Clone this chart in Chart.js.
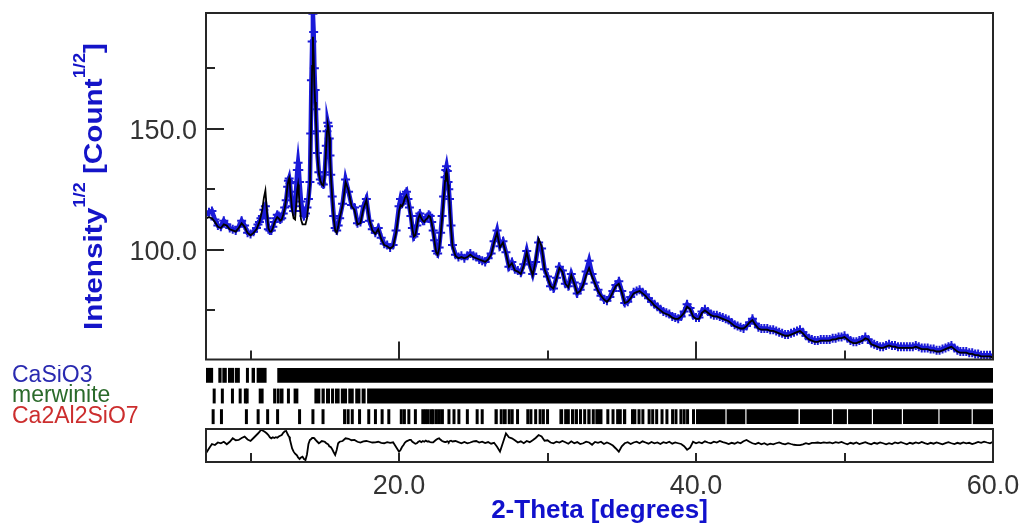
<!DOCTYPE html>
<html>
<head>
<meta charset="utf-8">
<script src="https://cdn.jsdelivr.net/npm/chart.js@4.4.1/dist/chart.umd.min.js"></script>
<style>
  html, body { margin: 0; padding: 0; background: #fff; width: 1022px; height: 524px; overflow: hidden; }
  body { position: relative; }
  canvas { position: absolute; left: 0; }
  #main { top: 0; }
  #bands { top: 365px; }
  #diff { top: 420px; }
</style>
</head>
<body>
<canvas id="main" width="1022" height="366"></canvas>
<canvas id="bands" width="1022" height="62"></canvas>
<canvas id="diff" width="1022" height="104"></canvas>
<script>
// 2-theta positions of the profile points (degrees)
const twoTheta = [
  7.0, 7.2, 7.4, 7.6, 7.8, 8.0, 8.2, 8.4, 8.6, 8.8, 9.0, 9.2, 9.4, 9.6, 9.8, 10.0, 10.2, 10.4,
  10.5, 10.6, 10.7, 10.8, 10.9, 11.0, 11.1, 11.2, 11.3, 11.4, 11.5, 11.6, 11.7, 11.8, 11.9, 12.0, 12.1, 12.2, 12.3, 12.4, 12.5, 12.55, 12.6, 12.65, 12.7, 12.8, 12.9, 13.0, 13.1, 13.15, 13.2, 13.25, 13.3, 13.4, 13.5, 13.6, 13.7, 13.8, 13.9,
  14.0, 14.05, 14.1, 14.15, 14.2, 14.25, 14.3, 14.35, 14.4, 14.45, 14.5, 14.6, 14.7, 14.8, 14.9, 15.0, 15.1, 15.15, 15.2, 15.25, 15.3, 15.35, 15.4, 15.5, 15.6, 15.7, 15.8, 15.9, 16.0,
  16.2, 16.4, 16.6, 16.8, 17.0, 17.2, 17.4, 17.6, 17.8, 18.0, 18.2, 18.4, 18.6, 18.8, 19.0, 19.2, 19.4, 19.6, 19.8,
  20.0, 20.1, 20.2, 20.3, 20.4, 20.5, 20.6, 20.7, 20.8, 20.9, 21.0, 21.1, 21.2, 21.3, 21.4, 21.5, 21.6, 21.7, 21.8, 21.9,
  22.0, 22.1, 22.2, 22.3, 22.4, 22.5, 22.6, 22.7, 22.8, 22.9, 23.0, 23.1, 23.15, 23.2, 23.25, 23.3, 23.35, 23.4, 23.5, 23.6,
  23.8,
  24.0, 24.2, 24.4, 24.6, 24.8, 25.0, 25.2, 25.4, 25.6, 25.8,
  26.0, 26.2, 26.4, 26.6, 26.8, 27.0, 27.2, 27.4, 27.6, 27.8,
  28.0, 28.2, 28.4, 28.6, 28.8, 29.0, 29.2, 29.4, 29.6, 29.8,
  30.0, 30.2, 30.4, 30.6, 30.8, 31.0, 31.2, 31.4, 31.6, 31.8,
  32.0, 32.2, 32.4, 32.6, 32.8, 33.0, 33.2, 33.4, 33.6, 33.8,
  34.0, 34.2, 34.4, 34.6, 34.8, 35.0, 35.2, 35.4, 35.6, 35.8,
  36.0, 36.2, 36.4, 36.6, 36.8, 37.0, 37.2, 37.4, 37.6, 37.8,
  38.0, 38.2, 38.4, 38.6, 38.8, 39.0, 39.2, 39.4, 39.6, 39.8,
  40.0, 40.2, 40.4, 40.6, 40.8, 41.0, 41.2, 41.4, 41.6, 41.8,
  42.0, 42.2, 42.4, 42.6, 42.8, 43.0, 43.2, 43.4, 43.6, 43.8,
  44.0, 44.2, 44.4, 44.6, 44.8, 45.0, 45.2, 45.4, 45.6, 45.8,
  46.0, 46.2, 46.4, 46.6, 46.8, 47.0, 47.2, 47.4, 47.6, 47.8,
  48.0, 48.2, 48.4, 48.6, 48.8, 49.0, 49.2, 49.4, 49.6, 49.8,
  50.0, 50.2, 50.4, 50.6, 50.8, 51.0, 51.2, 51.4, 51.6, 51.8,
  52.0, 52.2, 52.4, 52.6, 52.8, 53.0, 53.2, 53.4, 53.6, 53.8,
  54.0, 54.2, 54.4, 54.6, 54.8, 55.0, 55.2, 55.4, 55.6, 55.8,
  56.0, 56.2, 56.4, 56.6, 56.8, 57.0, 57.2, 57.4, 57.6, 57.8,
  58.0, 58.2, 58.4, 58.6, 58.8, 59.0, 59.2, 59.4, 59.6, 59.8,
  60.0
];

// measured intensity, sqrt(counts)
const yObs = [
  114.5, 115.5, 116.0, 112.5, 110.0, 109.5, 112.0, 110.5, 109.0, 108.5, 108.0, 109.5, 112.0, 110.0, 107.0, 106.5, 107.5, 109.0,
  110.5, 111.5, 113.0, 114.0, 116.5, 118.0, 113.0, 108.5, 108.0, 108.0, 109.5, 111.5, 113.0, 114.5, 114.0, 112.5, 113.0, 115.0, 117.5, 120.5, 126.0, 128.5, 129.5, 127.5, 124.0, 118.0, 116.0, 118.0, 128.0, 133.0, 136.0, 133.0, 128.0, 120.0, 116.0, 114.0, 115.0, 117.5, 121.0,
  128.0, 148.0, 170.0, 186.0, 197.5, 190.0, 175.0, 166.0, 158.0, 149.0, 140.0, 132.0, 129.0, 127.5, 127.0, 132.0, 143.0, 149.0, 152.5, 151.0, 146.0, 139.0, 131.0, 122.0, 114.0, 109.0, 108.0, 110.0, 113.0,
  119.0, 129.0, 124.0, 118.5, 117.5, 111.0, 111.5, 118.0, 121.0, 112.0, 108.5, 107.0, 109.0, 105.0, 102.5, 102.0, 101.0, 102.0, 108.0,
  118.0, 121.0, 119.0, 120.0, 123.0, 124.0, 121.0, 117.5, 114.0, 109.0, 105.5, 106.5, 110.0, 114.0, 115.0, 113.5, 112.0, 112.0, 113.0, 113.5,
  114.5, 114.0, 111.5, 108.0, 104.0, 99.5, 98.5, 101.0, 107.0, 114.0, 122.0, 130.0, 133.0, 134.5, 132.5, 128.0, 125.0, 121.0, 110.0, 102.0,
  98.0,
  97.0, 97.5, 96.5, 97.5, 98.5, 97.5, 97.0, 96.0, 95.5, 95.0,
  96.5, 98.5, 103.5, 108.0, 101.5, 103.5, 99.0, 93.0, 95.0, 92.0,
  91.5, 90.5, 94.0, 99.5, 94.0, 90.0, 95.0, 103.0, 100.5, 92.0,
  89.0, 85.0, 84.0, 88.5, 93.0, 91.5, 86.0, 85.0, 90.0, 86.5,
  82.0, 83.5, 86.0, 91.0, 95.5, 90.0, 86.5, 83.5, 81.0, 79.5,
  79.0, 80.5, 83.0, 85.5, 87.0, 83.0, 78.0, 78.5, 80.5, 82.5,
  83.0, 83.5, 82.5, 81.5, 80.0, 78.5, 77.5, 76.5, 75.5, 74.5,
  74.0, 73.5, 72.5, 72.0, 71.5, 72.5, 74.5, 77.5, 76.0, 73.0,
  72.0, 72.0, 74.5, 75.5, 74.5, 73.5, 73.0, 73.0, 72.5, 72.0,
  71.5, 71.0, 70.0, 69.0, 68.5, 68.0, 67.5, 68.5, 70.0, 71.5,
  69.5, 68.0, 67.5, 67.5, 67.5, 67.0, 67.0, 66.5, 66.0, 65.5,
  65.0, 65.0, 65.5, 66.0, 66.5, 67.0, 66.0, 64.5, 63.5, 63.0,
  62.5, 62.5, 63.0, 63.0, 63.0, 63.0, 63.5, 63.5, 64.0, 64.0,
  64.5, 63.5, 62.5, 62.0, 62.0, 62.5, 63.0, 64.0, 63.0, 61.5,
  61.0, 60.5, 60.0, 60.0, 60.5, 61.0, 60.5, 60.5, 60.0, 60.0,
  60.0, 60.0, 60.0, 60.0, 60.5, 60.0, 59.5, 59.5, 59.5, 59.0,
  59.0, 58.5, 58.5, 59.0, 59.5, 60.0, 60.5, 59.5, 58.5, 58.0,
  58.0, 58.0, 57.5, 57.5, 57.0, 57.0, 56.5, 56.5, 56.5, 56.5,
  56.0
];

// refined (calculated) profile
const yCalc = [
  113.0, 113.5, 113.0, 111.5, 109.5, 109.0, 110.5, 110.0, 108.5, 108.0, 107.5, 109.0, 111.0, 109.5, 107.0, 106.0, 107.0, 108.5,
  110.0, 111.5, 114.0, 117.0, 121.5, 124.5, 116.0, 109.0, 107.5, 107.5, 109.0, 111.0, 112.5, 113.5, 113.0, 112.0, 112.5, 114.5, 117.0, 121.0, 127.0, 128.5, 129.5, 127.0, 123.0, 116.5, 113.0, 112.5, 121.0, 125.0, 127.0, 123.5, 119.0, 112.5, 110.5, 110.5, 110.5, 113.0, 119.0,
  127.0, 142.0, 160.0, 176.0, 188.0, 180.0, 168.0, 161.0, 155.0, 147.0, 139.0, 131.5, 128.5, 127.0, 126.5, 131.0, 143.0, 149.0, 152.0, 150.5, 146.5, 139.0, 131.5, 121.5, 113.0, 108.0, 107.0, 109.5, 113.0,
  118.5, 128.0, 124.5, 118.0, 116.5, 110.5, 111.0, 117.0, 120.5, 112.5, 108.0, 106.5, 108.5, 104.5, 102.0, 101.5, 100.5, 101.5, 107.0,
  116.0, 118.5, 118.0, 119.5, 121.5, 122.5, 120.5, 117.0, 113.0, 108.5, 105.5, 106.0, 109.5, 113.0, 114.5, 113.0, 112.0, 111.5, 112.5, 113.0,
  114.0, 113.5, 111.0, 107.5, 103.0, 99.0, 98.0, 100.5, 106.0, 113.0, 121.0, 128.5, 131.5, 132.5, 131.0, 127.0, 123.5, 119.5, 109.0, 101.5,
  97.5,
  96.5, 97.0, 96.5, 97.0, 98.0, 97.0, 96.5, 96.0, 95.5, 95.0,
  96.0, 98.0, 103.0, 107.0, 101.0, 103.0, 98.5, 93.0, 94.5, 91.5,
  91.0, 90.0, 93.5, 99.0, 93.5, 89.5, 95.5, 104.5, 101.5, 92.0,
  88.5, 85.0, 84.0, 88.0, 92.5, 91.0, 86.0, 84.5, 89.5, 86.0,
  82.0, 83.0, 85.5, 89.5, 92.5, 89.0, 86.0, 83.0, 81.0, 79.5,
  78.5, 80.0, 82.5, 85.0, 86.0, 82.5, 78.0, 78.5, 80.0, 82.0,
  82.5, 83.0, 82.0, 81.0, 79.5, 78.5, 77.0, 76.0, 75.0, 74.0,
  73.5, 73.0, 72.0, 71.5, 71.5, 72.5, 74.0, 76.5, 75.5, 72.5,
  71.5, 71.5, 74.0, 75.0, 74.0, 73.0, 72.5, 72.5, 72.0, 71.5,
  71.0, 70.5, 69.5, 68.5, 68.0, 67.5, 67.5, 68.5, 70.0, 71.0,
  69.0, 67.5, 67.0, 67.0, 67.0, 66.5, 66.5, 66.0, 65.5, 65.0,
  64.5, 64.5, 65.0, 65.5, 66.0, 66.5, 65.5, 64.0, 63.0, 62.5,
  62.0, 62.0, 62.5, 62.5, 62.5, 62.5, 63.0, 63.0, 63.5, 63.5,
  64.0, 63.0, 62.0, 61.5, 61.5, 62.0, 62.5, 63.5, 63.0, 61.0,
  60.5, 60.0, 59.5, 59.5, 60.0, 60.5, 60.0, 60.0, 59.5, 59.5,
  59.5, 59.5, 59.5, 59.5, 60.0, 59.5, 59.0, 59.0, 59.0, 58.5,
  58.5, 58.0, 58.0, 58.5, 59.0, 59.5, 60.0, 59.0, 58.0, 57.5,
  57.5, 57.5, 57.0, 57.0, 56.5, 56.5, 56.0, 56.0, 56.0, 56.0,
  55.5
];

// difference curve (plotted on its own scale)
const yDiff = [
  -5.2, -2.0, 1.0, 0.3, 2.0, 1.5, 2.5, 0.8, 2.5, 4.8, 3.5, 3.7, 5.0, 5.9, 4.0, 3.0, 5.0, 7.0,
  8.0, 9.0, 10.5, 10.0, 9.5, 8.8, 8.0, 7.0, 5.5, 4.8, 5.5, 5.0, 5.5, 5.2, 6.0, 6.5, 7.0, 8.5, 9.5, 9.7, 7.5, 6.5, 5.9, 4.0, 2.0, -2.0, -4.1, -5.5, -6.3, -7.0, -8.0, -8.5, -9.0, -8.0, -7.5, -9.0, -9.7, -6.0, 1.0,
  3.7, 4.0, 4.5, 5.0, 5.0, 5.0, 4.8, 4.0, 3.5, 3.0, 2.5, 1.5, 2.2, 3.0, 2.8, 2.5, 1.5, 1.2, 1.0, 0.5, -0.5, -0.8, -1.0, -2.5, -4.5, -6.3, -3.0, 1.5, 2.5,
  3.0, 4.8, 4.5, 3.5, 3.7, 2.5, 2.0, 2.8, 3.0, 2.5, 2.0, 2.1, 2.5, 1.8, 1.5, 2.2, 1.8, 2.1, -1.0,
  -4.1, -3.0, -1.0, 0.3, 2.0, 2.8, 3.2, 3.7, 3.7, 2.5, 1.8, 1.2, 1.5, 2.5, 3.0, 2.2, 3.0, 2.5, 3.3, 2.6,
  2.8, 2.2, 2.1, 2.1, 3.0, 3.8, 4.5, 4.8, 3.8, 3.0, 2.6, 2.2, 2.4, 2.5, 2.8, 2.5, 2.2, 2.9, 3.2, 2.7,
  3.0,
  2.2, 1.5, 2.4, 1.5, 2.0, 2.8, 3.0, 2.0, 2.6, 1.6,
  2.3, 1.2, 1.8, -0.8, -4.1, 2.0, 8.1, 5.5, 4.8, 3.5,
  2.0, 2.8, 1.5, 3.0, 2.2, 3.5, 5.0, 7.0, 6.0, 3.2,
  3.5, 2.0, 1.5, 2.5, 2.0, 3.0, 2.2, 1.2, 2.8, 1.5,
  2.3, 1.0, 1.5, 2.6, 2.0, 0.5, 2.4, 1.8, 2.5, 1.0,
  2.0, 1.2, 0.0, -2.0, -4.1, -0.5, 1.5, 2.2, 1.0, 2.0,
  2.6, 1.5, 2.8, 2.0, 1.2, 2.4, 1.5, 2.0, 1.0, 2.2,
  1.6, 2.5, 1.2, 2.0, 1.5, 1.0, -0.5, -2.8, -1.5, 2.5,
  1.5, 2.2, 1.5, 2.8, 2.0, 1.5, 2.6, 2.0, 3.0, 2.2,
  1.8, 1.0, 1.8, 1.2, 2.2, 1.5, 2.8, 3.7, 2.5, 1.5,
  1.0, 1.8, 0.8, 1.5, 0.5, 1.2, 0.8, 1.5, 2.0, 1.2,
  0.8, 1.6, 1.0, 0.5, 0.2, 0.3, 0.8, 1.5, 1.0, 1.8,
  1.8, 2.0, 1.6, 2.1, 1.8, 2.0, 1.5, 2.2, 1.8, 2.4,
  1.5, 0.8, 1.8, 1.2, 2.0, 1.0, 1.6, 2.2, 1.4, 0.8,
  1.8, 1.2, 2.0, 1.5, 0.8, 1.6, 1.0, 2.0, 1.4, 2.2,
  1.5, 0.8, 1.8, 1.2, 2.0, 1.5, 2.4, 1.6, 1.0, 1.8,
  1.2, 2.0, 1.4, 0.8, 1.6, 2.2, 1.5, 1.0, 1.8, 1.2,
  2.0, 1.4, 1.8, 1.0, 1.6, 2.4, 1.8, 2.6, 2.0, 1.5,
  2.5
];

// phases and their reflection positions, as 2-theta spans [from, to]
const phaseNames = ['CaSiO3', 'merwinite', 'Ca2Al2SiO7'];
const phaseColors = ['#2a2ab0', '#2a6a2a', '#cc2e2e'];

const reflCaSiO3 = [
  [7.0, 7.48], [7.83, 8.05], [8.1, 8.4], [8.48, 8.9], [8.95, 9.28],
  [9.69, 9.83], [10.07, 10.3], [10.41, 11.08], [11.8, 60.0]
];
const reflMerwinite = [
  [7.45, 7.55], [8.0, 8.1], [8.68, 8.78], [9.2, 9.3], [9.55, 9.62], [9.67, 9.74],
  [10.55, 10.88], [11.52, 11.62], [11.76, 11.86], [11.98, 12.22], [12.45, 12.62],
  [12.9, 13.22], [14.3, 14.7], [14.78, 15.0], [15.08, 15.35], [15.42, 15.6],
  [15.68, 16.0], [16.08, 16.5], [16.58, 16.95], [17.05, 17.4], [17.48, 17.75],
  [17.85, 60.0]
];
const reflCa2Al2SiO7 = [
  [7.38, 7.52], [7.94, 8.05], [9.62, 9.73], [10.41, 10.58], [11.05, 11.13], [11.72, 11.8],
  [13.2, 13.32], [14.1, 14.22], [14.78, 14.94], [16.23, 16.4], [16.47, 16.62], [16.75, 16.9],
  [17.24, 17.36], [17.86, 17.96], [18.31, 18.41], [18.76, 18.86], [19.21, 19.31],
  [20.05, 20.15], [20.26, 20.38], [20.56, 20.66], [21.0, 21.1], [21.5, 21.62], [21.68, 21.8],
  [21.86, 22.0], [22.06, 22.16], [22.2, 22.3], [22.42, 22.56], [22.62, 22.75], [22.82, 22.94],
  [23.26, 23.36], [23.6, 23.7], [23.93, 24.03], [24.5, 24.6], [25.16, 25.26], [25.5, 25.6],
  [26.43, 26.65], [26.78, 26.92], [27.0, 27.25], [27.32, 27.45], [27.52, 27.64], [27.88, 28.08],
  [28.57, 28.7], [28.78, 28.98], [29.1, 29.3], [29.4, 29.52], [29.62, 29.82], [29.9, 30.02],
  [30.8, 31.05], [31.12, 31.2], [31.3, 31.5], [31.58, 31.75], [31.82, 32.05], [32.12, 32.3],
  [32.4, 32.6], [32.68, 32.9], [32.98, 33.15], [33.22, 33.7], [33.96, 34.04], [34.31, 34.39],
  [34.62, 34.72], [34.8, 35.0], [35.08, 35.3], [35.62, 35.7], [35.78, 35.86], [36.06, 36.25],
  [36.32, 36.52], [36.74, 36.9], [36.98, 37.15], [37.25, 37.42], [37.61, 37.69], [37.94, 38.02],
  [38.32, 38.45], [38.55, 38.66], [38.88, 39.02], [39.1, 39.22], [39.33, 39.41], [39.73, 39.81],
  [40.0, 41.98], [42.06, 43.32], [43.4, 46.9], [47.0, 49.15], [49.23, 50.16], [50.24, 51.84],
  [51.92, 53.86], [53.94, 56.32], [56.4, 58.56], [58.64, 60.0]
];
const reflections = [reflCaSiO3, reflMerwinite, reflCa2Al2SiO7];

// axis ticks
const xTickValues = [10, 20, 30, 40, 50, 60];
const xLabelled = [20, 40, 60];
const yTickValues = [75, 100, 125, 150, 175];
const yLabelled = [100, 150];

const FONT = '"Liberation Sans", Arial, Helvetica, sans-serif';
const X_MIN = 7, X_MAX = 60;
const LEFT = 206, RIGHT_PAD = 29;
const OBS_BLUE = '#1a1ad8';

// keep the plot area exactly where the layout padding puts it
function noLabelPadding(s) {
  s.paddingTop = 0;
  s.paddingBottom = 0;
  s.paddingLeft = 0;
  s.paddingRight = 0;
}

// box round the plot area plus inward tick marks
const frameTicks = {
  id: 'frameTicks',
  afterDatasetsDraw(chart, args, opts) {
    const { ctx, chartArea: a, scales } = chart;
    ctx.save();
    ctx.strokeStyle = '#262626';
    ctx.lineWidth = 2;
    ctx.strokeRect(a.left, a.top, a.right - a.left, a.bottom - a.top);
    ctx.beginPath();
    (opts.x || []).forEach(v => {
      const px = Math.round(scales.x.getPixelForValue(v));
      const len = (opts.xMajor || []).includes(v) ? opts.major : opts.minor;
      ctx.moveTo(px, a.bottom);
      ctx.lineTo(px, a.bottom - len);
    });
    (opts.y || []).forEach(v => {
      const py = Math.round(scales.y.getPixelForValue(v));
      const len = (opts.yMajor || []).includes(v) ? opts.major : opts.minor;
      ctx.moveTo(a.left, py);
      ctx.lineTo(a.left + len, py);
    });
    ctx.stroke();
    ctx.restore();
  }
};

// rotated y title with superscripts
const yTitle = {
  id: 'yTitle',
  afterDraw(chart) {
    const ctx = chart.ctx;
    const parts = [
      { t: 'Intensity', sup: false },
      { t: '1/2', sup: true },
      { t: ' [Count', sup: false },
      { t: '1/2', sup: true },
      { t: ']', sup: false }
    ];
    const big = 'bold 26px ' + FONT;
    const small = 'bold 16px ' + FONT;
    let total = 0;
    parts.forEach(p => {
      ctx.font = p.sup ? small : big;
      p.w = ctx.measureText(p.t).width;
      total += p.w;
    });
    const stretch = 287 / total;
    ctx.save();
    ctx.translate(102, 186.5);
    ctx.rotate(-Math.PI / 2);
    ctx.scale(stretch, 1);
    ctx.fillStyle = '#1414c8';
    ctx.textBaseline = 'alphabetic';
    let x = -total / 2;
    parts.forEach(p => {
      ctx.font = p.sup ? small : big;
      ctx.fillText(p.t, x, p.sup ? -17 : 0);
      x += p.w;
    });
    ctx.restore();
  }
};

const obsPoints = twoTheta.map((t, i) => ({ x: t, y: yObs[i] }));
const calcPoints = twoTheta.map((t, i) => ({ x: t, y: yCalc[i] }));
const diffPoints = twoTheta.map((t, i) => ({ x: t, y: yDiff[i] }));

// main profile: observed crosses and calculated line
new Chart(document.getElementById('main'), {
  type: 'scatter',
  data: {
    datasets: [
      {
        label: 'Ycalc',
        data: calcPoints,
        showLine: true,
        borderColor: '#000',
        borderWidth: 1.8,
        pointRadius: 0,
        order: 0
      },
      {
        label: 'Yobs',
        data: obsPoints,
        showLine: true,
        borderWidth: 4.5,
        borderColor: OBS_BLUE,
        pointStyle: 'cross',
        pointRadius: 4.5,
        pointBorderWidth: 2,
        pointBorderColor: OBS_BLUE,
        backgroundColor: OBS_BLUE,
        order: 1
      }
    ]
  },
  options: {
    responsive: false,
    animation: false,
    events: [],
    layout: { padding: { top: 13, right: RIGHT_PAD, bottom: 3, left: 0 } },
    plugins: {
      legend: { display: false },
      tooltip: { enabled: false },
      frameTicks: { x: xTickValues, xMajor: xLabelled, y: yTickValues, yMajor: yLabelled, major: 18, minor: 9 }
    },
    scales: {
      x: { type: 'linear', min: X_MIN, max: X_MAX, display: false },
      y: {
        type: 'linear',
        min: 54.7,
        max: 197.8,
        afterFit: s => { s.width = LEFT; noLabelPadding(s); },
        afterBuildTicks: s => { s.ticks = yTickValues.map(v => ({ value: v })); },
        grid: { display: false, drawTicks: false },
        border: { display: false },
        ticks: {
          padding: 9,
          labelOffset: 3,
          color: '#333',
          font: { family: FONT, size: 27 },
          callback: v => yLabelled.includes(v) ? v.toFixed(1) : ''
        }
      }
    }
  },
  plugins: [frameTicks, yTitle]
});

// reflection markers, one row per phase
new Chart(document.getElementById('bands'), {
  type: 'bar',
  data: {
    labels: phaseNames,
    datasets: phaseNames.map((name, k) => ({
      label: name,
      data: reflections[k].map(r => ({ x: r, y: name })),
      backgroundColor: '#000',
      borderWidth: 0,
      minBarLength: 3,
      grouped: false,
      categoryPercentage: 1,
      barPercentage: 0.72
    }))
  },
  options: {
    indexAxis: 'y',
    responsive: false,
    animation: false,
    events: [],
    layout: { padding: { top: 0, right: RIGHT_PAD, bottom: 0, left: 12 } },
    plugins: { legend: { display: false }, tooltip: { enabled: false } },
    scales: {
      x: { type: 'linear', min: X_MIN, max: X_MAX, display: false },
      y: {
        afterFit: s => { s.width = LEFT - 12; noLabelPadding(s); },
        grid: { display: false, drawTicks: false },
        border: { display: false },
        ticks: {
          autoSkip: false,
          crossAlign: 'far',
          padding: 0,
          color: c => phaseColors[c.index],
          font: { family: FONT, size: 23 }
        }
      }
    }
  }
});

// difference curve with the 2-theta axis
new Chart(document.getElementById('diff'), {
  type: 'scatter',
  data: {
    datasets: [{
      label: 'Yobs-Ycalc',
      data: diffPoints,
      showLine: true,
      borderColor: '#000',
      borderWidth: 1.8,
      pointRadius: 0
    }]
  },
  options: {
    responsive: false,
    animation: false,
    events: [],
    layout: { padding: { top: 9, right: RIGHT_PAD, bottom: 0, left: LEFT } },
    plugins: {
      legend: { display: false },
      tooltip: { enabled: false },
      frameTicks: { x: xTickValues, xMajor: [], major: 9, minor: 9 }
    },
    scales: {
      x: {
        type: 'linear',
        min: X_MIN,
        max: X_MAX,
        afterBuildTicks: s => { s.ticks = xTickValues.map(v => ({ value: v })); },
        afterFit: s => { s.height = 62; noLabelPadding(s); },
        grid: { display: false, drawTicks: false },
        border: { display: false },
        ticks: {
          autoSkip: false,
          maxRotation: 0,
          padding: 8,
          color: '#333',
          font: { family: FONT, size: 27 },
          callback: v => xLabelled.includes(v) ? v.toFixed(1) : ''
        },
        title: {
          display: true,
          text: '2-Theta [degrees]',
          color: '#1111cc',
          font: { family: FONT, size: 26, weight: 'bold', lineHeight: 1 },
          padding: { top: 0, bottom: 0 }
        }
      },
      y: { type: 'linear', min: -11, max: 11, display: false }
    }
  },
  plugins: [frameTicks]
});
</script>
</body>
</html>
